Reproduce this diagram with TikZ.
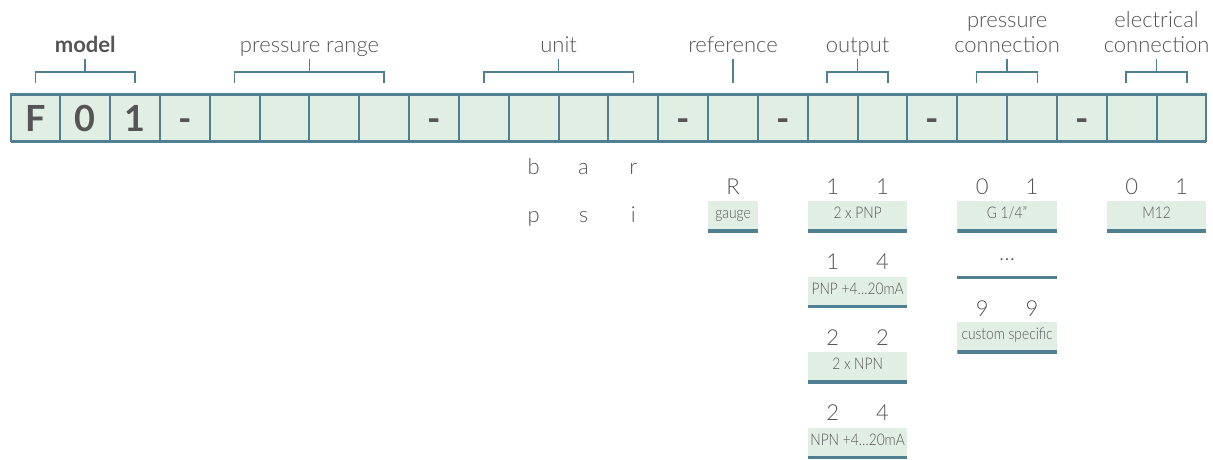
\documentclass[tikz,border=0pt]{standalone}
\usepackage{fontspec}
\setmainfont{Lato Light}[BoldFont={Lato Bold}]
\newfontfamily\narrowfont{Lato Light}[FakeStretch=0.86]
\definecolor{cellfill}{RGB}{225,238,228}
\definecolor{cellline}{RGB}{79,127,144}
\definecolor{txtgray}{RGB}{85,85,85}
\definecolor{codegray}{RGB}{85,85,85}

\begin{document}
\begin{tikzpicture}[
    x=1pt, y=1pt,
    every node/.style={text=txtgray, inner sep=0pt, outer sep=0pt},
    cell/.style={rectangle, draw=cellline, line width=2pt, fill=cellfill,
        minimum width=49.83pt, minimum height=47pt},
    code/.style={font=\fontsize{36}{36}\selectfont\bfseries, text=codegray,
        text height=27pt, text depth=0pt},
    head/.style={font=\fontsize{22}{25}\selectfont, align=center,
        anchor=south, text depth=0pt},
    brk/.style={draw=cellline, line width=1.5pt},
    digit/.style={font=\fontsize{22}{22}\selectfont, anchor=base},
    opt/.style={rectangle, fill=cellfill, minimum height=31pt,
        font=\fontsize{16}{16}\narrowfont, text height=9pt, text depth=5pt,
        path picture={\draw[cellline, line width=6pt]
            (path picture bounding box.south west) -- (path picture bounding box.south east);}}
]
\useasboundingbox (0,0) rectangle (1213,-459);

% Code
\foreach \t [count=\i from 0] in {F,0,1,-,{},{},{},{},-,{},{},{},{},-,{},-,{},{},-,{},{},-,{},{}}
    \node[cell, code] (c\i) at ({10.5+(\i+0.5)*49.83}, -117.5) {\t};
\draw[cellline, line width=3pt] (c0.north west) -- (c23.north east);
\draw[cellline, line width=3pt] (c0.south west) -- (c23.south east);

% Titel
\node[head, font=\fontsize{22}{25}\selectfont\bfseries] (model) at (c1 |- 0,-52) {model};
\node[head] (range) at (c5.east |- 0,-52) {pressure range};
\node[head] (unit) at (c10.east |- 0,-52) {unit};
\node[head] (ref) at (c14 |- 0,-52) {reference};
\node[head] (output) at (c16.east |- 0,-52) {output};
\node[head] (pconn) at (c19.east |- 0,-52) {pressure\\connection};
\node[head] (econn) at (c22.east |- 0,-52) {electrical\\connection};

% Klammern
\draw[brk] ([yshift=11pt]c0.north) |- ([yshift=22pt]c2.north) -- ([yshift=11pt]c2.north);
\draw[brk] ([yshift=11pt]c4.north) |- ([yshift=22pt]c7.north) -- ([yshift=11pt]c7.north);
\draw[brk] ([yshift=11pt]c9.north) |- ([yshift=22pt]c12.north) -- ([yshift=11pt]c12.north);
\draw[brk] ([xshift=-5.6pt,yshift=11pt]c16.north) |- ([xshift=5.6pt,yshift=22pt]c17.north) -- ([xshift=5.6pt,yshift=11pt]c17.north);
\draw[brk] ([xshift=-5.6pt,yshift=11pt]c19.north) |- ([xshift=5.6pt,yshift=22pt]c20.north) -- ([xshift=5.6pt,yshift=11pt]c20.north);
\draw[brk] ([xshift=-5.6pt,yshift=11pt]c22.north) |- ([xshift=5.6pt,yshift=22pt]c23.north) -- ([xshift=5.6pt,yshift=11pt]c23.north);
\foreach \n in {model,range,unit,output,pconn,econn}
    \draw[brk] ([yshift=-7pt]\n.south) -- ++(0,-13);
\draw[brk] ([yshift=-7pt]ref.south) -- ([yshift=11pt]c14.north);

% Einheit
\node[digit] (b) at (c10 |- 0,-174) {b};
\node[digit] (a) at (c11 |- 0,-174) {a};
\node[digit] (r) at (c12 |- 0,-174) {r};
\node[digit] (p) at (c10 |- 0,-222) {p};
\node[digit] (s) at (c11 |- 0,-222) {s};
\node[digit] (i) at (c12 |- 0,-222) {i};

% Referenz
\node[digit] (R) at (c14 |- 0,-194) {R};
\node[opt, minimum width=49.83pt] (gauge) at (c14 |- 0,-216.5) {gauge};

% Ausgang
\node[digit] (o1a) at (c16 |- 0,-194) {1};
\node[digit] (o1b) at (c17 |- 0,-194) {1};
\node[opt, minimum width=99.66pt] (o1) at (c16.east |- 0,-216.5) {2 x PNP};
\node[digit] (o2a) at (c16 |- 0,-269.5) {1};
\node[digit] (o2b) at (c17 |- 0,-269.5) {4};
\node[opt, minimum width=99.66pt] (o2) at (c16.east |- 0,-292) {PNP +4…20mA};
\node[digit] (o3a) at (c16 |- 0,-345) {2};
\node[digit] (o3b) at (c17 |- 0,-345) {2};
\node[opt, minimum width=99.66pt] (o3) at (c16.east |- 0,-367.5) {2 x NPN};
\node[digit] (o4a) at (c16 |- 0,-420.5) {2};
\node[digit] (o4b) at (c17 |- 0,-420.5) {4};
\node[opt, minimum width=99.66pt] (o4) at (c16.east |- 0,-443) {NPN +4…20mA};

% Druckanschluss
\node[digit] (p1a) at (c19 |- 0,-194) {0};
\node[digit] (p1b) at (c20 |- 0,-194) {1};
\node[opt, minimum width=99.66pt] (p1) at (c19.east |- 0,-216.5) {G 1/4”};
\node[digit] (pdots) at (c19.east |- 0,-260) {…};
\coordinate (pl) at ([xshift=-49.83pt]c19.east |- 0,-277);
\coordinate (pr) at ([xshift=49.83pt]c19.east |- 0,-277);
\draw[cellline, line width=3pt] (pl) -- (pr);
\node[digit] (p9a) at (c19 |- 0,-316.5) {9};
\node[digit] (p9b) at (c20 |- 0,-316.5) {9};
\node[opt, minimum width=99.66pt] (p9) at (c19.east |- 0,-337.5) {custom specific};

% Elektrischer Anschluss
\node[digit] (e1a) at (c22 |- 0,-194) {0};
\node[digit] (e1b) at (c23 |- 0,-194) {1};
\node[opt, minimum width=99.66pt] (e1) at (c22.east |- 0,-216.5) {M12};
\end{tikzpicture}
\end{document}
